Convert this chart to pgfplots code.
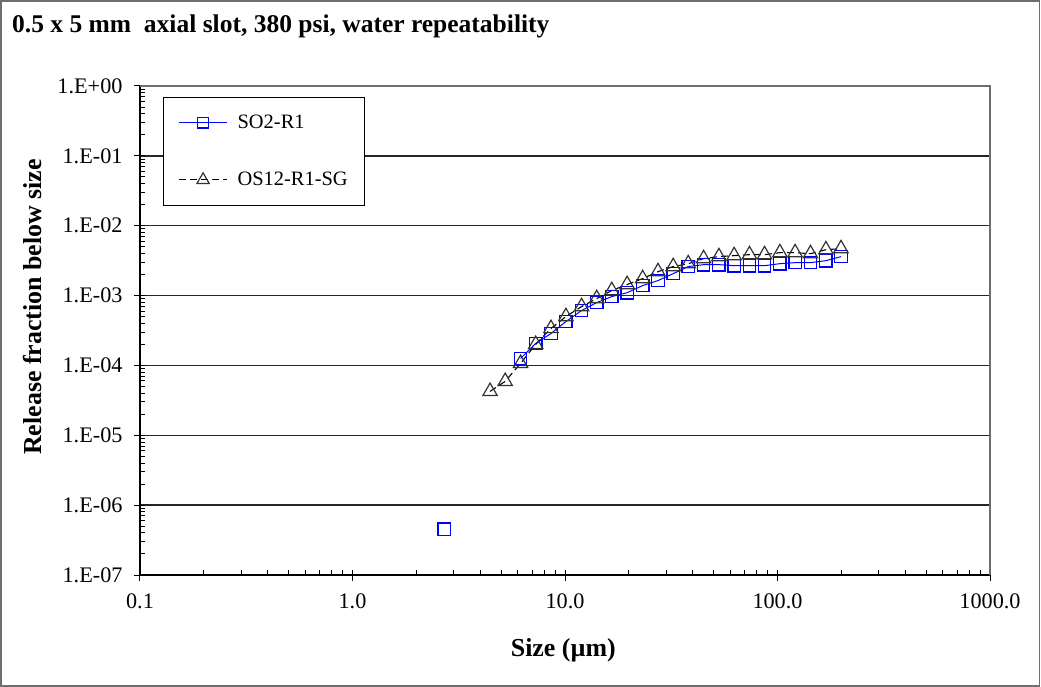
\documentclass[border=0pt]{standalone}
\usepackage{fontspec}
\setmainfont{Liberation Serif}
\usepackage{pgfplots}
\pgfplotsset{compat=1.18}
\usepackage{pgfplotstable}

% Cumulative release fraction vs. particle size
\pgfplotstableread{
size    frac
6.18    1.26e-4
7.28    2.06e-4
8.59    2.86e-4
10.1    4.25e-4
11.97   6.10e-4
14.1    7.94e-4
16.6    9.68e-4
19.6    1.10e-3
23.2    1.39e-3
27.4    1.64e-3
32.3    2.06e-3
38.0    2.60e-3
44.9    2.77e-3
53.0    2.77e-3
62.5    2.68e-3
73.8    2.68e-3
86.9    2.68e-3
102.6   2.86e-3
121     2.96e-3
143     2.96e-3
169     3.16e-3
199     3.61e-3
}\runA

\pgfplotstableread{
size    frac
2.70    4.54e-7
}\runAlow

\pgfplotstableread{
size    frac
4.44    4.25e-5
5.23    5.91e-5
6.18    1.07e-4
7.28    2.00e-4
8.59    3.38e-4
10.1    5.01e-4
11.97   6.96e-4
14.1    9.06e-4
16.6    1.18e-3
19.6    1.44e-3
23.2    1.75e-3
27.4    2.20e-3
32.3    2.60e-3
38.0    2.86e-3
44.9    3.38e-3
53.0    3.61e-3
62.5    3.73e-3
73.8    3.85e-3
86.9    3.85e-3
102.6   4.11e-3
121     4.11e-3
143     3.98e-3
169     4.54e-3
199     4.69e-3
}\runB

\definecolor{sqblue}{RGB}{0,0,255}
\definecolor{frame}{RGB}{110,110,110}

\begin{document}
\begin{tikzpicture}[x=1bp,y=1bp]
\useasboundingbox (0,0) rectangle (1041,687);
\draw[frame, line width=1.6bp] (1,1) rectangle (1039.5,686);
\node[anchor=base west, inner sep=0pt, font=\fontsize{25.6}{30}\selectfont\bfseries]
  at (12,654) {0.5 x 5 mm\ \ axial slot, 380 psi, water repeatability};

\begin{axis}[
  at={(140bp,112bp)}, anchor=south west,
  scale only axis, width=850bp, height=489bp,
  xmode=log, ymode=log,
  xmin=0.1, xmax=1000, ymin=1e-7, ymax=1,
  axis x line*=bottom, axis y line*=left,
  axis line style={black, line width=1.2bp},
  xtick={0.1,1,10,100,1000},
  xticklabels={0.1,1.0,10.0,100.0,1000.0},
  ytick={1e-7,1e-6,1e-5,1e-4,1e-3,1e-2,1e-1,1},
  yticklabels={1.E-07,1.E-06,1.E-05,1.E-04,1.E-03,1.E-02,1.E-01,1.E+00},
  tick label style={font=\fontsize{22.3}{26}\selectfont, black},
  xticklabel style={yshift=-15bp},
  yticklabel style={xshift=-14bp},
  tick align=inside,
  major tick length=11bp,
  minor tick length=5bp,
  tick style={black, line width=1bp},
  major x tick style={yshift=-5.5bp},
  major y tick style={xshift=-5.5bp},
  ymajorgrids,
  major grid style={black!85, line width=1.5bp},
  xlabel={\bfseries Size (µm)},
  ylabel={\bfseries Release fraction below size},
  label style={font=\fontsize{26}{31}\selectfont},
  xlabel style={at={(axis description cs:0.498,-0.153)}, anchor=center},
  ylabel style={at={(axis description cs:-0.126,0.548)}, anchor=center},
  clip=false,
  legend cell align=left,
  legend style={at={(rel axis cs:0.027,0.978)}, anchor=north west,
    draw=black, line width=1.2bp, fill=white,
    font=\fontsize{20.5}{24}\selectfont,
    nodes={inner sep=2bp},
    inner xsep=15bp, inner ysep=16bp, row sep=38bp, column sep=8bp},
  legend image code/.code={%
    \draw[mark repeat=2, mark phase=2, #1, every mark/.append style={scale=0.85}]
      plot coordinates {(0bp,0bp) (24bp,0bp) (48bp,0bp)};},
]
\addplot[sqblue, line width=1bp, mark=square, mark size=6.2bp,
  mark options={solid, line width=1.3bp, fill=white, fill opacity=0}]
  table[x=size, y=frac] {\runA};
\addlegendentry{SO2-R1}
\addplot[black, line width=1.1bp, dash pattern=on 7bp off 4bp,
  mark=triangle, mark size=8.3bp,
  mark options={solid, line width=1.2bp, draw=black!80}]
  table[x=size, y=frac] {\runB};
\addlegendentry{OS12-R1-SG}
\addplot[sqblue, only marks, mark=square, mark size=6.2bp,
  mark options={line width=1.3bp}, forget plot]
  table[x=size, y=frac] {\runAlow};
\draw[frame, line width=1.3bp] (rel axis cs:0,1) -- (rel axis cs:1,1) -- (rel axis cs:1,0);
\end{axis}
\end{tikzpicture}
\end{document}
